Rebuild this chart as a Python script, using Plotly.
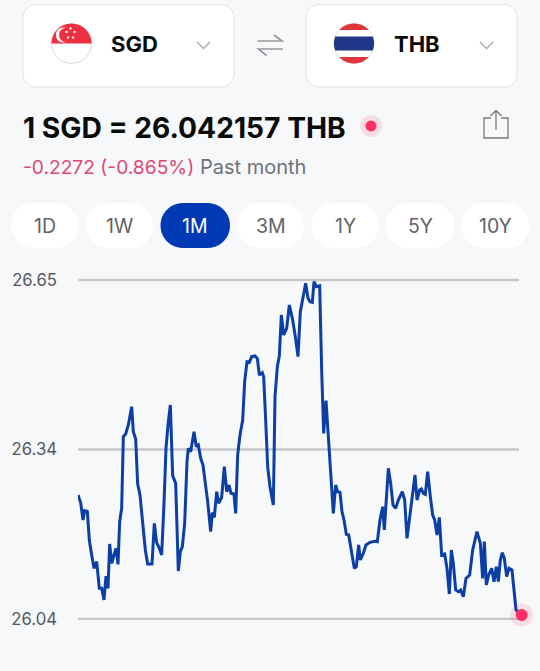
import numpy as np
import plotly.graph_objects as go

W, H = 540, 671
BG = "#f6f8fa"
FONT = "Inter"

# Elapsed time over the month (arbitrary ticks) and SGD/THB rate
elapsed = [0,8,15,20,28,34,41,48,56,64,71,78,84,90,95,101,108,114,120,125,131,136,143,151,161,166,173,179,186,194,202,209,222,229,236,244,251,258,264,270,277,284,293,301,307,313,320,327,331,338,348,355,361,368,375,382,389,398,403,409,416,422,431,439,446,453,459,468,473,479,486,494,500,507,514,521,531,538,544,553,557,563,569,576,586,591,598,604,610,617,626,634,644,652,660,667,676,683,690,696,703,708,715,725,731,737,744,751,758,766,773,779,786,792,798,805,812,829,835,842,847,856,864,876,891,898,906,914,919,931,938,945,953,961,973,980,987,995,1011,1017,1025,1030,1036,1042,1049,1057,1064,1070,1077,1084,1091,1100,1107,1114,1120,1126,1133,1141,1148,1156,1164,1175,1184,1197,1207,1214,1219,1225,1232,1241,1248,1255,1261,1267,1273,1279,1286,1293,1302,1314,1331]
rate = [26.263,26.2492,26.218,26.2348,26.2336,26.182,26.155,26.131,26.143,26.095,26.095,26.074,26.1172,26.095,26.1748,26.14,26.155,26.167,26.1382,26.215,26.239,26.368,26.3728,26.389,26.422,26.377,26.3638,26.2828,26.263,26.218,26.164,26.1388,26.1388,26.212,26.1772,26.167,26.155,26.248,26.347,26.389,26.425,26.2978,26.284,26.1262,26.161,26.17,26.212,26.323,26.347,26.341,26.377,26.35,26.353,26.329,26.317,26.284,26.251,26.197,26.2312,26.2228,26.269,26.248,26.2588,26.314,26.269,26.281,26.266,26.2648,26.23,26.335,26.371,26.398,26.467,26.503,26.5018,26.512,26.5132,26.509,26.479,26.4832,26.476,26.398,26.314,26.278,26.245,26.44,26.494,26.5132,26.587,26.551,26.563,26.605,26.578,26.548,26.512,26.593,26.626,26.644,26.617,26.611,26.6098,26.647,26.638,26.6398,26.488,26.374,26.4328,26.368,26.308,26.23,26.281,26.269,26.2678,26.233,26.218,26.1922,26.191,26.131,26.134,26.173,26.146,26.158,26.173,26.1778,26.1796,26.179,26.218,26.242,26.2,26.311,26.284,26.245,26.239,26.254,26.269,26.254,26.185,26.221,26.299,26.254,26.272,26.2738,26.266,26.2642,26.305,26.26,26.227,26.218,26.191,26.2228,26.155,26.1568,26.131,26.0848,26.164,26.14,26.092,26.089,26.092,26.08,26.113,26.119,26.164,26.197,26.176,26.113,26.179,26.101,26.119,26.131,26.107,26.134,26.107,26.146,26.1592,26.149,26.116,26.131,26.128,26.056,26.047]
tick_values = [26.65, 26.345, 26.04]
tick_labels = ["26.65", "26.34", "26.04"]
grid_end = 1323
range_labels = ["1D", "1W", "1M", "3M", "1Y", "5Y", "10Y"]
active_range = "1M"


def X(x):
    return x / W


def Y(y):
    return 1 - y / H


def poly(pts):
    return "M" + " L".join(f"{X(a):.5f},{Y(b):.5f}" for a, b in pts) + " Z"


def rrect(x0, y0, x1, y1, r):
    pts = []
    for cx, cy, a0 in ((x1 - r, y0 + r, -90), (x1 - r, y1 - r, 0), (x0 + r, y1 - r, 90), (x0 + r, y0 + r, 180)):
        for a in np.radians(np.linspace(a0, a0 + 90, 12)):
            pts.append((cx + r * np.cos(a), cy + r * np.sin(a)))
    return poly(pts)


def circle_band(cx, cy, r, top, bottom):
    """Part of a circle between two y offsets."""
    ts = np.linspace(top, bottom, 30)
    right = [(cx + np.sqrt(max(r * r - t * t, 0)), cy + t) for t in ts]
    left = [(cx - np.sqrt(max(r * r - t * t, 0)), cy + t) for t in ts[::-1]]
    return poly(right + left)


shapes = []

# Gridlines stop short of the last point, so they are drawn on the axes' own scale
for v in tick_values:
    shapes.append(dict(type="line", xref="x", yref="y", x0=0, x1=grid_end, y0=v, y1=v,
                       line=dict(color="#c6c8ca", width=2.4), layer="below"))


def path(d, fill="rgba(0,0,0,0)", line=None, width=1):
    shapes.append(dict(type="path", xref="paper", yref="paper", path=d, fillcolor=fill,
                       line=dict(color=line or "rgba(0,0,0,0)", width=width if line else 0), layer="above"))


def stroke(pts, color, width):
    d = "M" + " L".join(f"{X(a):.5f},{Y(b):.5f}" for a, b in pts)
    shapes.append(dict(type="path", xref="paper", yref="paper", path=d,
                       line=dict(color=color, width=width), layer="above"))


def star(cx, cy, r):
    path(circle_band(cx, cy, r, -r, r), fill="white")


# Currency cards
for x0 in (23, 306):
    path(rrect(x0, 4.5, x0 + 211, 87, 13), fill="white", line="#dfe2e6", width=1)

# Singapore flag
cx, cy, r = 71.5, 43.5, 20
path(circle_band(cx, cy, r, -r, r), fill="white", line="#d6d6d6", width=1)
path(circle_band(cx, cy, r, -r, 0), fill="#ee2f40")
path(circle_band(63.5, 35, 7.6, -7.6, 7.6), fill="white")
path(circle_band(66.3, 35, 7.2, -7.2, 7.2), fill="#ee2f40")
for sx, sy in ((70.5, 28.5), (66.5, 32), (74.5, 32), (68, 37.5), (73, 37.5)):
    star(sx, sy, 1.2)

# Thailand flag
cx = 354
path(circle_band(cx, cy, r, -r, r), fill="white", line="#dcdcdc", width=1)
path(circle_band(cx, cy, r, -r, -13.5), fill="#e0343f")
path(circle_band(cx, cy, r, -7, 7), fill="#1f3585")
path(circle_band(cx, cy, r, 13.5, r), fill="#e0343f")

# Chevrons
for x in (203.5, 486.5):
    stroke([(x - 6.5, 42), (x, 48.5), (x + 6.5, 42)], "#a4a7ab", 1.3)

# Swap arrows
stroke([(257.5, 41), (282, 41), (274, 35)], "#97999c", 1.7)
stroke([(283, 49), (258.5, 49), (266.5, 55.5)], "#97999c", 1.7)

# Status dot
path(circle_band(371, 126, 11, -11, 11), fill="rgba(255,45,98,0.13)")
path(circle_band(371, 126, 5.5, -5.5, 5.5), fill="#ff2f63")

# Share icon
stroke([(491, 118), (484, 118), (484, 138), (508, 138), (508, 118), (501, 118)], "#77797c", 1.3)
stroke([(496, 130), (496, 111)], "#77797c", 1.3)
stroke([(490.5, 116), (496, 110.5), (501.5, 116)], "#77797c", 1.3)

# Range pills
pill_edges = [(11, 78.5), (86, 153), (160.5, 230), (237, 304), (311.5, 379), (386, 454), (461, 529)]
for label, (a, b) in zip(range_labels, pill_edges):
    on = label == active_range
    path(rrect(a, 203, b, 248, 22.4), fill="#0039b4" if on else "white")


def text(x, y, s, size, color, anchor="left", bold=False):
    return dict(xref="paper", yref="paper", x=X(x), y=Y(y), text=f"<b>{s}</b>" if bold else s,
                showarrow=False, xanchor=anchor, yanchor="middle", borderpad=0, borderwidth=0,
                font=dict(family=FONT, size=size, color=color))


annotations = [
    text(110.5, 44, "SGD", 22, "#0b0b0b", bold=True),
    text(393.5, 44, "THB", 22, "#0b0b0b", bold=True),
    text(22.5, 128, "1 SGD = 26.042157 THB", 28.2, "#0b0b0b", bold=True),
    text(22.5, 167, "-0.2272 (-0.865%)", 19.2, "#dd4a72"),
    text(199.5, 167, "Past month", 20, "#6f7276"),
]
for label, (a, b) in zip(range_labels, pill_edges):
    on = label == active_range
    annotations.append(text((a + b) / 2, 225.5, label, 19.5, "white" if on else "#5f6266", anchor="center"))

fig = go.Figure()
fig.add_trace(go.Scatter(x=elapsed, y=rate, mode="lines", line=dict(color="#0b3fa6", width=3, shape="linear"),
                         cliponaxis=False, hoverinfo="skip"))
fig.add_trace(go.Scatter(x=elapsed[-1:], y=rate[-1:], mode="markers", cliponaxis=False, hoverinfo="skip",
                         marker=dict(size=23, color="rgba(255,45,98,0.13)", line=dict(width=0))))
fig.add_trace(go.Scatter(x=elapsed[-1:], y=rate[-1:], mode="markers", cliponaxis=False, hoverinfo="skip",
                         marker=dict(size=12, color="#ff2f63", line=dict(width=0))))

fig.update_layout(
    width=W, height=H, margin=dict(l=0, r=0, t=0, b=0), paper_bgcolor=BG, plot_bgcolor=BG,
    showlegend=False, shapes=shapes, annotations=annotations,
    font=dict(family=FONT),
    xaxis=dict(domain=[78 / W, (78 + 1350 / 3) / W], range=[0, 1350], visible=False, fixedrange=True),
    yaxis=dict(domain=[1 - 640 / H, 1 - 270 / H], range=[26.002, 26.668], anchor="x", fixedrange=True,
               tickmode="array", tickvals=tick_values, ticktext=tick_labels,
               showgrid=False, zeroline=False, showline=False,
               ticks="", ticklabelstandoff=20, tickfont=dict(family=FONT, size=16.7, color="#55585c")),
)
fig.write_html("out.html", config=dict(displayModeBar=False),
               post_script="document.body.style.margin='0';document.body.style.overflow='hidden';")
